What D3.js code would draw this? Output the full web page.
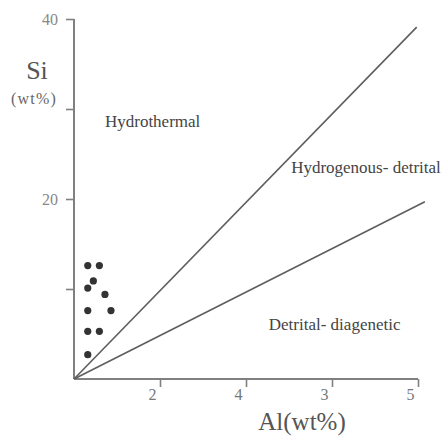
<!DOCTYPE html>
<html>
<head>
<meta charset="utf-8">
<script src="https://cdn.jsdelivr.net/npm/d3@7"></script>
<style>
  html, body { margin: 0; padding: 0; background: #fff; }
  svg { display: block; }
  text { font-family: "Liberation Serif", "DejaVu Serif", serif; }
</style>
</head>
<body>
<svg id="chart" width="445" height="436"></svg>
<script>
// ---- data ----
const alValues = [0.32, 0.59, 0.45, 0.32, 0.72, 0.32, 0.86, 0.32, 0.59, 0.32];
const siValues = [12.6, 12.6, 10.9, 10.1, 9.4, 7.6, 7.6, 5.3, 5.3, 2.7];
const xTickValues = [2, 4, 6, 8];
const xTickLabels = ["2", "4", "3", "5"];
const yTickValues = [10, 20, 30, 40];
const yTickLabels = ["", "20", "", "40"];
const boundaryUpper = [[0, 0], [7.97, 39.1]];
const boundaryLower = [[0, 0], [8.16, 19.7]];
const regionNames = ["Hydrothermal", "Hydrogenous- detrital", "Detrital- diagenetic"];
const regionAnchors = [[0.72, 28.0], [5.05, 22.9], [4.53, 5.4]];

// ---- chart ----
const svg = d3.select("#chart");
const x = d3.scaleLinear().domain([0, 8]).range([74, 418]);
const y = d3.scaleLinear().domain([0, 40]).range([379, 19]);
const axisColor = "#808080";

// y axis
const yAxis = d3.axisLeft(y).tickValues(yTickValues)
  .tickFormat((d, i) => yTickLabels[i]).tickSize(8).tickSizeOuter(0);
const gy = svg.append("g").attr("transform", `translate(${x(0)},0)`).call(yAxis);
gy.select(".domain").attr("stroke", axisColor).attr("stroke-width", 2)
  .attr("d", `M0,${y(40)}V${y(0)}`);
gy.selectAll(".tick line").attr("stroke", axisColor).attr("stroke-width", 1.6);
gy.selectAll(".tick text").attr("fill", "#888").attr("font-size", 16)
  .attr("font-family", "Liberation Serif").attr("x", -16);

// x axis
const xAxis = d3.axisBottom(x).tickValues(xTickValues)
  .tickFormat((d, i) => xTickLabels[i]).tickSize(8).tickSizeOuter(0);
const gx = svg.append("g").attr("transform", `translate(0,${y(0)})`).call(xAxis);
gx.select(".domain").attr("stroke", axisColor).attr("stroke-width", 2)
  .attr("d", `M${x(0)},0H${x(8)}`);
gx.selectAll(".tick line").attr("stroke", axisColor).attr("stroke-width", 1.6);
gx.selectAll(".tick text").attr("fill", "#777").attr("font-size", 16)
  .attr("font-family", "Liberation Serif")
  .attr("text-anchor", "end").attr("x", -4).attr("y", 10);

// boundary lines
const line = d3.line().x(d => x(d[0])).y(d => y(d[1]));
[boundaryUpper, boundaryLower].forEach(b => {
  svg.append("path").attr("d", line(b)).attr("fill", "none")
    .attr("stroke", "#5e5e5e").attr("stroke-width", 1.6);
});

// points
svg.append("g").selectAll("circle").data(alValues).join("circle")
  .attr("cx", d => x(d)).attr("cy", (d, i) => y(siValues[i]))
  .attr("r", 3.6).attr("fill", "#333");

// region labels
svg.append("g").selectAll("text").data(regionNames).join("text")
  .attr("x", (d, i) => x(regionAnchors[i][0]))
  .attr("y", (d, i) => y(regionAnchors[i][1]))
  .attr("font-size", 17).attr("fill", "#444").text(d => d);

// axis titles
svg.append("text").attr("x", 37).attr("y", 79).attr("text-anchor", "middle")
  .attr("font-size", 26).attr("fill", "#555").text("Si");
svg.append("text").attr("x", 34).attr("y", 104).attr("text-anchor", "middle")
  .attr("font-size", 16).attr("letter-spacing", 1.2).attr("fill", "#666").text("(wt%)");
svg.append("text").attr("x", 302).attr("y", 430).attr("text-anchor", "middle")
  .attr("font-size", 25).attr("fill", "#555").text("Al(wt%)");
</script>
</body>
</html>
